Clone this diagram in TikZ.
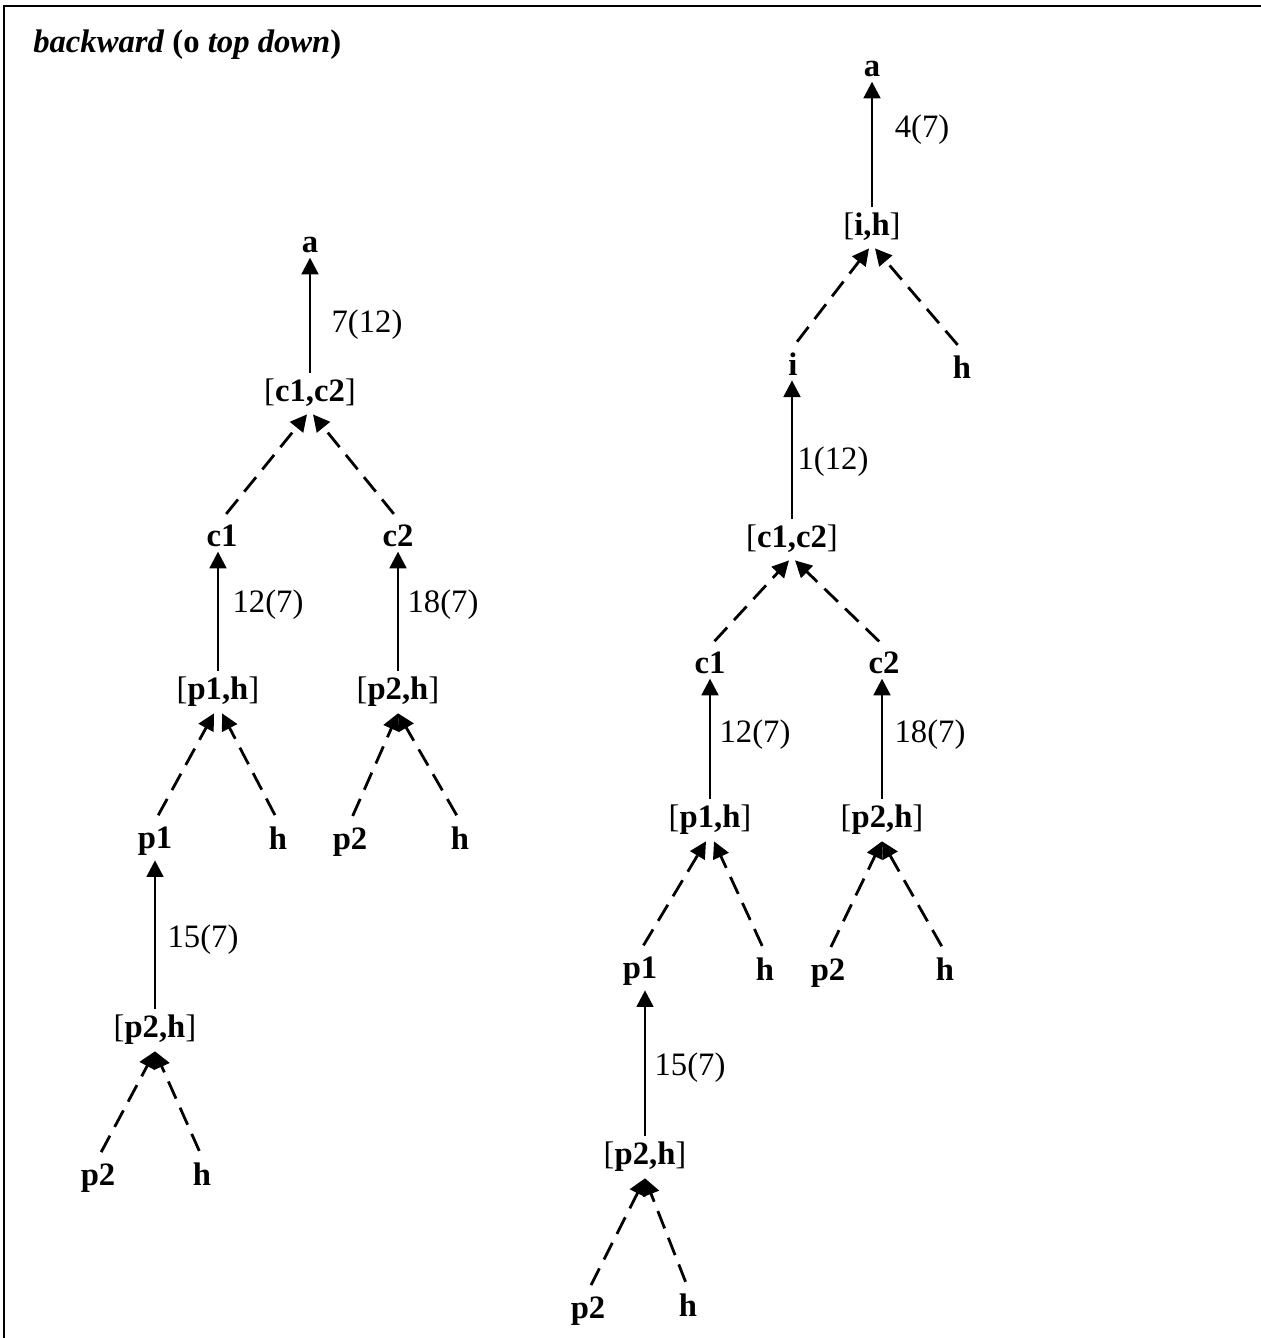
\documentclass[tikz,border=0pt]{standalone}
\usepackage{fontspec}
\setmainfont{Liberation Serif}
\usetikzlibrary{arrows.meta,calc}
\begin{document}
\begin{tikzpicture}[x=0.75pt,y=-0.75pt,
  nd/.style={font=\fontsize{24.5}{28}\selectfont\bfseries, inner sep=0pt, outer sep=4pt, anchor=base},
  num/.style={font=\fontsize{24.5}{28}\selectfont, inner sep=0pt},
  solidarr/.style={line width=2.1pt, -{Triangle[length=12.5pt,width=12.5pt]}},
  dasharr/.style={line width=2.1pt, dash pattern=on 14pt off 7.5pt, shorten <=5pt, -{Triangle[length=12.5pt,width=12.5pt]}},
  frame/.style={line width=2pt}
]
\useasboundingbox (0,0) rectangle (1260,1338);
\coordinate (fb) at (4,1340);
\coordinate (fc) at (4,6);
\coordinate (fr) at (1262,6);
\draw[frame] (fb) -- (fc) -- (fr);

\node[anchor=base west, inner sep=0pt, font=\fontsize{24.5}{28}\selectfont\bfseries] (title) at (33,53)
  {\textit{backward} (o \textit{top down})};

% ---------- left tree ----------
\node[nd] (La)   at (310,252) {a};
\node[nd] (Lc12) at (310,401) {{\mdseries[}c1,c2{\mdseries]}};
\node[nd] (Lc1)  at (222,546) {c1};
\node[nd] (Lc2)  at (398,546) {c2};
\node[nd] (Lp1h) at (218,699) {{\mdseries[}p1,h{\mdseries]}};
\node[nd] (Lp2h) at (398,699) {{\mdseries[}p2,h{\mdseries]}};
\node[nd] (Lp1)  at (155,848) {p1};
\node[nd] (Lh1)  at (278,849) {h};
\node[nd] (Lp2)  at (350,849) {p2};
\node[nd] (Lh2)  at (460,849) {h};
\node[nd] (Lp2hb) at (155,1037) {{\mdseries[}p2,h{\mdseries]}};
\node[nd] (Lp2b) at (98,1185) {p2};
\node[nd] (Lhb)  at (202,1185) {h};

\draw[solidarr] (Lc12.north) -- (Lc12.north |- La.south);
\node[num] (l1) at (367,325) {7(12)};
\draw[dasharr] (Lc1.north) -- ($(Lc12.south)+(-3,3)$);
\draw[dasharr] (Lc2.north) -- ($(Lc12.south)+(3,3)$);
\draw[solidarr] (Lp1h.north) -- (Lp1h.north |- Lc1.south);
\node[num] (l2) at (268,605) {12(7)};
\draw[solidarr] (Lp2h.north) -- (Lp2h.north |- Lc2.south);
\node[num] (l3) at (443,605) {18(7)};
\draw[dasharr] (Lp1.north) -- ($(Lp1h.south)+(-4,2)$);
\draw[dasharr] (Lh1.north) -- ($(Lp1h.south)+(4,2)$);
\draw[dasharr] (Lp2.north) -- ($(Lp2h.south)+(0,2)$);
\draw[dasharr] (Lh2.north) -- ($(Lp2h.south)+(0,2)$);
\draw[solidarr] (Lp2hb.north) -- (Lp2hb.north |- Lp1.south);
\node[num] (l4) at (203,940) {15(7)};
\draw[dasharr] (Lp2b.north) -- ($(Lp2hb.south)+(0,2)$);
\draw[dasharr] (Lhb.north) -- ($(Lp2hb.south)+(0,2)$);

% ---------- right tree ----------
\node[nd] (Ra)   at (872,76) {a};
\node[nd] (Rih)  at (872,235) {{\mdseries[}i,h{\mdseries]}};
\node[nd] (Ri)   at (793,375) {i};
\node[nd] (Rhi)  at (962,378) {h};
\node[nd] (Rc12) at (792,547) {{\mdseries[}c1,c2{\mdseries]}};
\node[nd] (Rc1)  at (710,673) {c1};
\node[nd] (Rc2)  at (884,673) {c2};
\node[nd] (Rp1h) at (710,827) {{\mdseries[}p1,h{\mdseries]}};
\node[nd] (Rp2h) at (882,827) {{\mdseries[}p2,h{\mdseries]}};
\node[nd] (Rp1)  at (640,978) {p1};
\node[nd] (Rh1)  at (765,980) {h};
\node[nd] (Rp2)  at (828,980) {p2};
\node[nd] (Rh2)  at (945,980) {h};
\node[nd] (Rp2hb) at (645,1164) {{\mdseries[}p2,h{\mdseries]}};
\node[nd] (Rp2b) at (588,1318) {p2};
\node[nd] (Rhb)  at (688,1316) {h};

\draw[solidarr] (Rih.north) -- (Rih.north |- Ra.south);
\node[num] (r1) at (922,130) {4(7)};
\draw[dasharr] (Ri.north) -- ($(Rih.south)+(-3,3)$);
\draw[dasharr] (Rhi.north) -- ($(Rih.south)+(3,3)$);
\draw[solidarr] (Rc12.north) -- (Rc12.north |- Ri.south);
\node[num] (r2) at (833,462) {1(12)};
\draw[dasharr] (Rc1.north) -- ($(Rc12.south)+(-3,3)$);
\draw[dasharr] (Rc2.north) -- ($(Rc12.south)+(3,3)$);
\draw[solidarr] (Rp1h.north) -- (Rp1h.north |- Rc1.south);
\node[num] (r3) at (755,735) {12(7)};
\draw[solidarr] (Rp2h.north) -- (Rp2h.north |- Rc2.south);
\node[num] (r4) at (930,735) {18(7)};
\draw[dasharr] (Rp1.north) -- ($(Rp1h.south)+(-4,2)$);
\draw[dasharr] (Rh1.north) -- ($(Rp1h.south)+(4,2)$);
\draw[dasharr] (Rp2.north) -- ($(Rp2h.south)+(0,2)$);
\draw[dasharr] (Rh2.north) -- ($(Rp2h.south)+(0,2)$);
\draw[solidarr] (Rp2hb.north) -- (Rp2hb.north |- Rp1.south);
\node[num] (r5) at (690,1068) {15(7)};
\draw[dasharr] (Rp2b.north) -- ($(Rp2hb.south)+(0,2)$);
\draw[dasharr] (Rhb.north) -- ($(Rp2hb.south)+(0,2)$);
\end{tikzpicture}
\end{document}
